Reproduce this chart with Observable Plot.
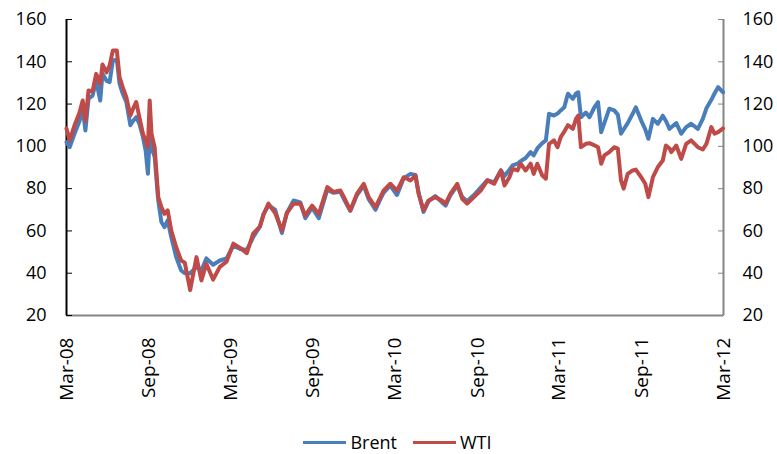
<!DOCTYPE html>
<html>
<head>
<meta charset="utf-8">
<script src="https://cdn.jsdelivr.net/npm/d3@7"></script>
<script src="https://cdn.jsdelivr.net/npm/@observablehq/plot@0.6"></script>
<style>
  html, body { margin: 0; padding: 0; background: #ffffff; }
  #chart { width: 777px; height: 454px; position: relative; font-family: "Open Sans", sans-serif; }
  .legend { position: absolute; top: 424px; left: 0; width: 777px; height: 36px; display: flex; justify-content: center; align-items: center; font-size: 18px; color: #000; padding-left: 18px; box-sizing: border-box; }
  .legend .item { display: flex; align-items: center; margin: 0 8px; }
  .legend .sw { display: inline-block; width: 43px; height: 3px; margin-right: 4px; }
</style>
</head>
<body>
<div id="chart"></div>
<script>
const dates = ["2008-03-01","2008-03-08","2008-03-19","2008-03-30","2008-04-06","2008-04-12","2008-04-19","2008-04-28","2008-05-06","2008-05-15","2008-05-20","2008-05-29","2008-06-05","2008-06-12","2008-06-21","2008-06-27","2008-07-04","2008-07-12","2008-07-21","2008-07-27","2008-08-03","2008-08-10","2008-08-18","2008-08-24","2008-08-29","2008-09-02","2008-09-06","2008-09-13","2008-09-21","2008-09-28","2008-10-05","2008-10-12","2008-10-20","2008-10-31","2008-11-11","2008-11-19","2008-12-01","2008-12-15","2008-12-26","2009-01-06","2009-01-21","2009-02-05","2009-02-20","2009-03-07","2009-03-22","2009-04-06","2009-04-20","2009-05-05","2009-05-13","2009-05-24","2009-06-08","2009-06-23","2009-07-04","2009-07-19","2009-08-03","2009-08-14","2009-08-29","2009-09-13","2009-10-02","2009-10-16","2009-10-31","2009-11-08","2009-11-22","2009-12-07","2009-12-22","2010-01-02","2010-01-17","2010-01-28","2010-02-04","2010-02-19","2010-03-06","2010-03-21","2010-04-05","2010-04-16","2010-04-23","2010-05-04","2010-05-15","2010-05-30","2010-06-14","2010-06-22","2010-07-03","2010-07-18","2010-07-29","2010-08-09","2010-08-24","2010-09-08","2010-09-23","2010-10-08","2010-10-23","2010-10-31","2010-11-11","2010-11-18","2010-11-29","2010-12-06","2010-12-17","2010-12-28","2011-01-04","2011-01-12","2011-01-23","2011-01-31","2011-02-07","2011-02-18","2011-02-26","2011-03-05","2011-03-13","2011-03-21","2011-04-01","2011-04-08","2011-04-13","2011-04-19","2011-04-30","2011-05-08","2011-05-19","2011-05-27","2011-06-03","2011-06-10","2011-06-21","2011-07-02","2011-07-10","2011-07-17","2011-07-23","2011-08-01","2011-08-12","2011-08-19","2011-08-31","2011-09-09","2011-09-16","2011-09-26","2011-10-07","2011-10-18","2011-10-25","2011-11-02","2011-11-06","2011-11-17","2011-11-28","2011-12-09","2011-12-20","2012-01-04","2012-01-15","2012-01-23","2012-02-03","2012-02-10","2012-02-18","2012-02-29"];

const brent = [102, 99.6, 106, 112, 118.5, 107.5, 122.5, 124, 131, 121.7,
  134.3, 131, 130.4, 140.6, 141, 129.6, 124.9, 121, 110, 112,
  113.8, 110.7, 104.4, 98, 87, 104.4, 99.6, 95, 74.4, 64.2,
  61.8, 65, 57, 47.6, 41.3, 40, 40, 42.9, 41.3, 47,
  44, 46, 47, 53, 51.5, 51, 57, 62, 68, 72,
  70, 59, 68.5, 74.4, 73.5, 66, 71, 66, 79.5, 78,
  78.5, 75, 69.5, 77, 81.5, 75, 70, 75, 78, 81.5,
  77, 85, 87, 86.5, 78, 69, 74, 76.5, 73.5, 72,
  77, 81.5, 76, 74, 77, 80.5, 84, 83, 88.6, 86,
  89, 91, 91.8, 93, 94.5, 97.3, 95.7, 99, 101.5, 102.8,
  115.4, 114.6, 115.5, 117, 118.5, 124.9, 122.5, 125, 125.6, 113.8,
  116, 113.8, 118.5, 120.9, 106.7, 111, 117.8, 117, 115, 106,
  108, 111, 115.4, 118.5, 112.2, 108, 103.6, 113, 110.7, 114.5,
  112, 108.3, 109, 111, 106, 109.1, 110.7, 108.3, 113, 118,
  122, 125, 128, 125.6];

const wti = [108.5, 102.8, 110, 116, 121.7, 112, 126.4, 126, 134.3, 129.6,
  138.7, 135, 138.3, 145.3, 145.3, 132.7, 128, 123.3, 114.6, 117.8,
  121, 113.8, 106, 102.8, 99.6, 121.7, 106, 99.6, 76, 71.3,
  68.1, 69.7, 60.2, 52.3, 46, 45, 32, 47.6, 36.6, 44.5,
  37, 43, 45.5, 54, 52, 49.5, 58.7, 62, 67.5, 72.9,
  68.5, 60.2, 68.5, 72.9, 72.9, 67.3, 72, 68, 80.7, 78.4,
  79.1, 76, 69.7, 77.6, 82.3, 76, 71.3, 76, 79.1, 82.3,
  79.1, 85.4, 83.9, 86.2, 77.6, 69.7, 74.4, 76, 74.4, 72.9,
  77.6, 82.3, 75.2, 72.9, 76, 79.1, 83.9, 82.3, 88.6, 81.5,
  85.4, 89.4, 88.6, 91.8, 88.6, 91.8, 87, 91.8, 86.2, 84.7,
  101.2, 102.8, 99.6, 104.4, 107, 110, 108.3, 113, 114.6, 99.6,
  101.2, 101.5, 100.5, 99.6, 91.8, 95.7, 97.3, 99.6, 98.9, 83.9,
  80, 87, 88.6, 89, 85.4, 82.3, 76, 85.4, 90.2, 93.3,
  100.4, 99, 97.3, 100.4, 94.1, 101.2, 102.8, 99.6, 98.5, 101.2,
  109.1, 106, 106.7, 108.5];

const xTickDates = ["2008-03-01","2008-09-01","2009-03-01","2009-09-01","2010-03-01","2010-09-01","2011-03-01","2011-09-01","2012-03-01"];
const xTickLabels = ["Mar-08","Sep-08","Mar-09","Sep-09","Mar-10","Sep-10","Mar-11","Sep-11","Mar-12"];
const yTicks = [20, 40, 60, 80, 100, 120, 140, 160];
const seriesNames = ["Brent", "WTI"];
const seriesColors = ["#4a7ebb", "#be4b48"];

const parse = d3.utcParse("%Y-%m-%d");
const table = dates.map((d, i) => ({date: parse(d), brent: brent[i], wti: wti[i]}));
const xTicks = xTickDates.map(parse);
const xDomain = [xTicks[0], xTicks[xTicks.length - 1]];

const plot = Plot.plot({
  width: 777,
  height: 424,
  marginLeft: 66,
  marginRight: 54,
  marginTop: 19,
  marginBottom: 109,
  style: {fontFamily: "Open Sans", fontSize: "18px", background: "#ffffff", color: "#000"},
  x: {type: "utc", domain: xDomain},
  y: {domain: [20, 160]},
  marks: [
    Plot.ruleY([20], {stroke: "#868686", strokeWidth: 2}),
    Plot.ruleX([xDomain[1]], {stroke: "#868686", strokeWidth: 2}),
    Plot.ruleX([xDomain[0]], {stroke: "#000", strokeWidth: 2}),
    Plot.axisY({anchor: "left", ticks: yTicks, tickSize: -6, tickPadding: 26, stroke: "#000", label: null, fontSize: 18}),
    Plot.axisY({anchor: "right", ticks: yTicks, tickSize: -6, tickPadding: 25, stroke: "#868686", label: null, fontSize: 18}),
    Plot.axisX({ticks: xTicks, tickFormat: (d, i) => xTickLabels[i], tickRotate: -90, tickSize: 0, tickPadding: 22, label: null, fontSize: 19}),
    Plot.lineY(table, {x: "date", y: "brent", stroke: seriesColors[0], strokeWidth: 4, curve: "linear"}),
    Plot.lineY(table, {x: "date", y: "wti", stroke: seriesColors[1], strokeWidth: 4, curve: "linear"})
  ]
});

const chart = document.getElementById("chart");
chart.appendChild(plot);
const legend = document.createElement("div");
legend.className = "legend";
seriesNames.forEach((name, i) => {
  const item = document.createElement("span");
  item.className = "item";
  const sw = document.createElement("span");
  sw.className = "sw";
  sw.style.background = seriesColors[i];
  const label = document.createElement("span");
  label.textContent = name;
  item.appendChild(sw);
  item.appendChild(label);
  legend.appendChild(item);
});
chart.appendChild(legend);
</script>
</body>
</html>
